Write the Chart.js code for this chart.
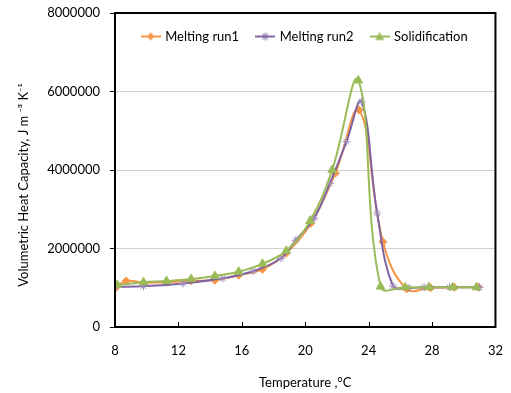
<!DOCTYPE html>
<html>
<head>
<meta charset="utf-8">
<script src="https://cdn.jsdelivr.net/npm/chart.js@4.4.0/dist/chart.umd.min.js"></script>
<style>
  html, body { margin: 0; padding: 0; background: #fff; }
  canvas { display: block; }
</style>
</head>
<body>
<canvas id="chart" width="511" height="393"></canvas>
<script>
// temperatures (degC) and volumetric heat capacity (J m-3 K-1)
const run1T = [8.0, 8.7, 9.8, 11.3, 12.8, 14.3, 15.8, 17.3, 18.8, 20.35, 21.9, 23.4, 24.9, 26.4, 27.9, 29.4, 30.9];
const run1V = [980000, 1170000, 1130000, 1140000, 1180000, 1190000, 1320000, 1470000, 1880000, 2640000, 3920000, 5530000, 2170000, 970000, 1000000, 1010000, 1020000];

const run2T = [8.0, 9.8, 12.3, 14.8, 16.7, 18.47, 19.4, 20.56, 21.55, 22.6, 23.55, 24.54, 25.54, 26.5, 27.5, 29.1, 31.0];
const run2V = [1020000, 1040000, 1110000, 1240000, 1420000, 1750000, 2210000, 2770000, 3660000, 4720000, 5740000, 2900000, 1040000, 1000000, 1010000, 1010000, 1010000];

const solT = [8.15, 9.8, 11.25, 12.8, 14.3, 15.8, 17.3, 18.8, 20.3, 21.7, 23.35, 24.75, 26.3, 27.8, 29.3, 30.8];
const solV = [1070000, 1140000, 1170000, 1220000, 1300000, 1410000, 1610000, 1940000, 2700000, 4000000, 6280000, 1030000, 1010000, 1010000, 1010000, 1010000];

const seriesNames = ["Melting run1", "Melting run2", "Solidification"];
const seriesColors = ["#F79646", "#8064A2", "#9BBB59"];
const xTicks = [8, 12, 16, 20, 24, 28, 32];
const yTicks = [0, 2000000, 4000000, 6000000, 8000000];

const FONT = "Lato";

function pairs(xs, ys) {
  return xs.map((x, i) => ({ x: x, y: ys[i] }));
}

// little line+marker pictures for the legend
function legendIcon(color, style) {
  const c = document.createElement("canvas");
  c.width = 20;
  c.height = 12;
  const g = c.getContext("2d");
  g.strokeStyle = color;
  g.fillStyle = color;
  g.lineWidth = 2;
  g.beginPath();
  g.moveTo(0, 6);
  g.lineTo(20, 6);
  g.stroke();
  g.lineWidth = 1;
  g.beginPath();
  if (style == "rectRot") {
    g.moveTo(10, 2); g.lineTo(14, 6); g.lineTo(10, 10); g.lineTo(6, 6);
    g.closePath(); g.fill();
  } else if (style == "star") {
    g.moveTo(6, 6); g.lineTo(14, 6);
    g.moveTo(10, 2); g.lineTo(10, 10);
    g.moveTo(7, 3); g.lineTo(13, 9);
    g.moveTo(13, 3); g.lineTo(7, 9);
    g.stroke();
  } else {
    g.moveTo(10, 1.5); g.lineTo(14.5, 9.5); g.lineTo(5.5, 9.5);
    g.closePath(); g.fill();
  }
  return c;
}
const icons = [
  legendIcon(seriesColors[0], "rectRot"),
  legendIcon(seriesColors[1], "star"),
  legendIcon(seriesColors[2], "triangle")
];

// legend inside the plot box, black frame, inward x ticks
const framePlugin = {
  id: "frame",
  beforeLayout(chart) {
    const lg = chart.legend;
    if (lg && !lg._flat) {
      const fit = lg.fit;
      lg.fit = function () { fit.call(this); this.height = 0; };
      lg._flat = true;
    }
  },
  afterLayout(chart) {
    const lg = chart.legend, a = chart.chartArea;
    lg.left = a.left - 50;
    lg.right = a.right + 50;
    lg.width = lg.right - lg.left;
    lg.top = a.top - 1;
    lg.bottom = lg.top + 60;
  },
  afterDraw(chart) {
    const ctx = chart.ctx, a = chart.chartArea, xs = chart.scales.x;
    ctx.save();
    ctx.strokeStyle = "#000";
    ctx.lineWidth = 1;
    xTicks.forEach(t => {
      const px = Math.round(xs.getPixelForValue(t)) + 0.5;
      ctx.beginPath();
      ctx.moveTo(px, a.bottom);
      ctx.lineTo(px, a.bottom - 5);
      ctx.stroke();
    });
    ctx.lineWidth = 2;
    ctx.strokeRect(a.left, a.top, a.right - a.left, a.bottom - a.top);
    ctx.restore();
  }
};

new Chart(document.getElementById("chart").getContext("2d"), {
  type: "line",
  data: {
    datasets: [
      {
        label: seriesNames[0],
        data: pairs(run1T, run1V),
        borderColor: seriesColors[0],
        backgroundColor: seriesColors[0],
        borderWidth: 2,
        pointStyle: "rectRot",
        pointRadius: 4,
        pointBorderWidth: 1,
        tension: 0.4,
        order: 3
      },
      {
        label: seriesNames[1],
        data: pairs(run2T, run2V),
        borderColor: seriesColors[1],
        backgroundColor: seriesColors[1],
        borderWidth: 2,
        pointStyle: "star",
        pointRadius: 4,
        pointBorderWidth: 1,
        pointBorderColor: "#9C88BC",
        tension: 0.4,
        order: 2
      },
      {
        label: seriesNames[2],
        data: pairs(solT, solV),
        borderColor: seriesColors[2],
        backgroundColor: seriesColors[2],
        borderWidth: 2,
        pointStyle: "triangle",
        pointRadius: 5,
        pointBorderWidth: 1,
        tension: 0.4,
        order: 1
      }
    ]
  },
  options: {
    responsive: false,
    animation: false,
    layout: { padding: { top: 13, right: 14, left: 0, bottom: 0 } },
    scales: {
      x: {
        type: "linear",
        min: 8,
        max: 32,
        afterBuildTicks(s) { s.ticks = xTicks.map(v => ({ value: v })); },
        afterFit(s) { s.height = 66; },
        grid: { display: false },
        border: { display: false },
        ticks: { padding: 8, color: "#000", font: { family: FONT, size: 13 } },
        title: {
          display: true,
          text: "Temperature ,°C",
          color: "#000",
          font: { family: FONT, size: 13 },
          padding: { top: 4, bottom: 2 }
        }
      },
      y: {
        min: 0,
        max: 8000000,
        afterBuildTicks(s) { s.ticks = yTicks.map(v => ({ value: v })); },
        afterFit(s) {
          s.width = 115;
          s.paddingTop = 0;
          s.paddingBottom = 0;
        },
        grid: {
          color: c => (c.tick && (c.tick.value === 0 || c.tick.value === 8000000)) ? "rgba(0,0,0,0)" : "#d0d0d0",
          tickColor: "#000",
          tickLength: 5,
          lineWidth: 1
        },
        border: { display: false },
        ticks: {
          padding: 10,
          color: "#000",
          font: { family: FONT, size: 13 },
          callback: v => String(v)
        },
        title: {
          display: true,
          text: "Volumetric Heat Capacity, J m \u207B\u00B3 K\u207B\u00B9\u00A0\u00A0\u00A0\u00A0\u00A0\u00A0\u00A0\u00A0\u00A0",
          color: "#000",
          font: { family: FONT, size: 13 },
          padding: { top: 16, bottom: 0 }
        }
      }
    },
    plugins: {
      tooltip: { enabled: false },
      legend: {
        position: "top",
        labels: {
          usePointStyle: true,
          pointStyleWidth: 16,
          padding: 18,
          color: "#000",
          font: { family: FONT, size: 13 },
          generateLabels(chart) {
            const items = Chart.defaults.plugins.legend.labels.generateLabels(chart);
            items.sort((p, q) => p.datasetIndex - q.datasetIndex);
            items.forEach(it => { it.pointStyle = icons[it.datasetIndex]; });
            return items;
          }
        }
      }
    }
  },
  plugins: [framePlugin]
});
</script>
</body>
</html>
